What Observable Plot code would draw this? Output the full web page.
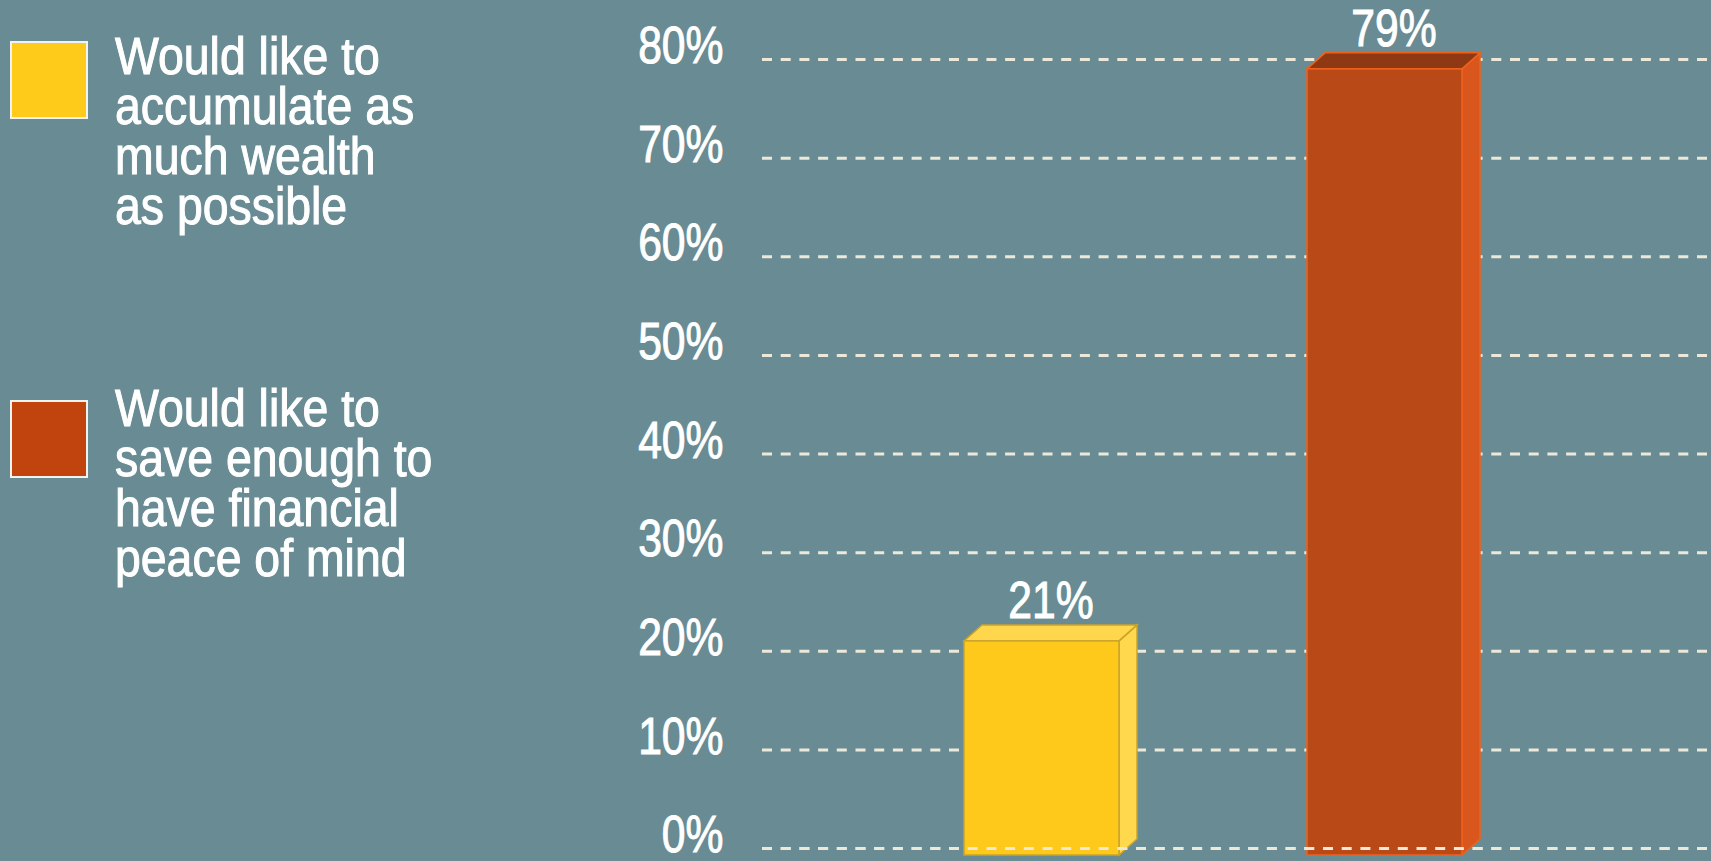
<!DOCTYPE html>
<html>
<head>
<meta charset="utf-8">
<script src="https://cdn.jsdelivr.net/npm/d3@7"></script>
<script src="https://cdn.jsdelivr.net/npm/@observablehq/plot@0.6"></script>
<style>
  html, body { margin: 0; padding: 0; background: #698c94; }
  #wrap { display: flex; width: 1711px; height: 861px; overflow: hidden; }
  #legend { position: relative; width: 600px; height: 861px; flex: none; }
  .sw { position: absolute; left: 10px; width: 78px; height: 78px; box-sizing: border-box; border: 2px solid #f2f2ee; }
  .lt { position: absolute; left: 115px; height: 50px; font-family: "Liberation Sans", Arial, sans-serif; font-size: 51px; line-height: 50px; color: #fff; -webkit-text-stroke: 1px #fff; white-space: nowrap; transform: scaleX(0.91); transform-origin: 0 50%; }
  #chart { width: 1111px; height: 861px; flex: none; }
</style>
</head>
<body>
<div id="wrap">
  <div id="legend"></div>
  <div id="chart"></div>
</div>
<script>
// ---- data ----
const categories = ["accumulate", "peace"];
const values = [21, 79];
const valueLabels = ["21%", "79%"];
const legendLines = [
  ["Would like to", "accumulate as", "much wealth", "as possible"],
  ["Would like to", "save enough to", "have financial", "peace of mind"]
];
const yTicks = [0, 10, 20, 30, 40, 50, 60, 70, 80];
const yTickLabels = ["0%", "10%", "20%", "30%", "40%", "50%", "60%", "70%", "80%"];

// ---- styles ----
const frontColors = ["#FFC91B", "#B94A18"];
const topColors = ["#FFD64C", "#8E3913"];
const sideColors = ["#FFD84E", "#D9571C"];
const edgeColors = ["#C9A42A", "#EE621E"];
const legendSwatch = ["#FFCB1A", "#C1440E"];
const legendTops = [[41, 32], [400, 384]];

const data = categories.map((c, i) => ({cat: c, value: values[i], label: valueLabels[i], i}));

// legend
const legend = document.getElementById("legend");
legendLines.forEach((lines, i) => {
  const sw = document.createElement("div");
  sw.className = "sw";
  sw.style.top = legendTops[i][0] + "px";
  sw.style.background = legendSwatch[i];
  legend.appendChild(sw);
  lines.forEach((line, j) => {
    const t = document.createElement("div");
    t.className = "lt";
    t.style.top = (legendTops[i][1] + j * 50) + "px";
    t.textContent = line;
    legend.appendChild(t);
  });
});

const DX = 18, DY = 16, EXT = 7;

// 3D top and side faces drawn from Plot's own scales
function faces(index, scales) {
  const g = d3.create("svg:g");
  const x = scales.x, y = scales.y;
  const bw = x.bandwidth ? x.bandwidth() : 155;
  data.forEach(d => {
    const x0 = x(d.cat), x1 = x0 + bw;
    const yv = y(d.value), yb = y(0) + EXT;
    g.append("polygon")
      .attr("points", [[x1, yv], [x1 + DX, yv - DY], [x1 + DX, yb - DY], [x1, yb]].join(" "))
      .attr("fill", sideColors[d.i]).attr("stroke", edgeColors[d.i]).attr("stroke-width", 1.5);
    g.append("polygon")
      .attr("points", [[x0, yv], [x1, yv], [x1 + DX, yv - DY], [x0 + DX, yv - DY]].join(" "))
      .attr("fill", topColors[d.i]).attr("stroke", edgeColors[d.i]).attr("stroke-width", 1.5);
  });
  return g.node();
}

const font = "'Liberation Sans', Arial, sans-serif";

const chart = Plot.plot({
  width: 1111,
  height: 861,
  marginLeft: 162,
  marginRight: 0,
  marginTop: 59,
  marginBottom: 13,
  style: {background: "transparent", color: "#ffffff", fontFamily: font, fontSize: "52px", overflow: "visible"},
  x: {domain: categories, range: [176.5, 1050.5], padding: 0.548, axis: null},
  y: {domain: [0, 80], label: null},
  marks: [
    Plot.ruleY(yTicks, {stroke: "#ece8da", strokeWidth: 3, strokeDasharray: "10,8.7"}),
    Plot.axisY(yTicks, {tickSize: 0, tickPadding: 39, tickFormat: d => yTickLabels[yTicks.indexOf(d)], dy: -13, fill: "#ffffff", fontSize: 52, fontFamily: font, label: null}),
    faces,
    Plot.barY(data, {x: "cat", y: "value", fill: d => frontColors[d.i], stroke: d => edgeColors[d.i], strokeWidth: 1.5, insetBottom: -EXT}),
    Plot.ruleY([0], {stroke: "#ece8da", strokeWidth: 3, strokeDasharray: "10,8.7"}),
    Plot.text(data, {x: "cat", y: "value", text: "label", dx: 9, dy: -(DY + 7), lineAnchor: "bottom", fill: "#ffffff", fontSize: 52, fontFamily: font})
  ]
});
document.getElementById("chart").appendChild(chart);

// condense and slightly embolden the numeric labels (style only)
d3.select(chart).selectAll("text").each(function() {
  let tr = this.getAttribute("transform") || "";
  const x = this.getAttribute("x");
  if (x != null && x !== "" && !isNaN(+x)) {
    tr += ` translate(${+x},0)`;
    this.removeAttribute("x");
  }
  this.setAttribute("transform", (tr + " scale(0.82,1)").trim());
  this.style.stroke = "#ffffff";
  this.style.strokeWidth = "1px";
});
</script>
</body>
</html>
